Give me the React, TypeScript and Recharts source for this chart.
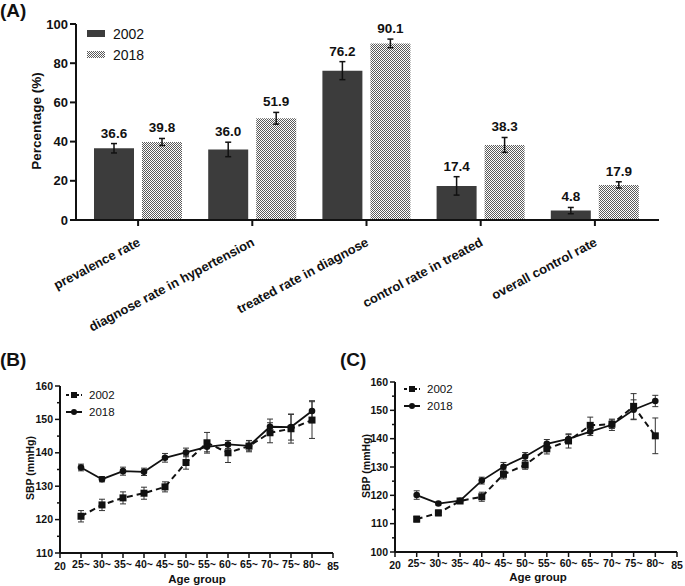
import React from "react";
import { BarChart, Bar, XAxis, YAxis, ErrorBar, LabelList, Legend, LineChart, Line } from "recharts";

const FONT = '"Liberation Sans", Arial, Helvetica, sans-serif';
const INK = "#111";
const DARK_BAR = "#3c3c3c";

// (A) awareness / treatment / control
const indicators = [
  "prevalence rate",
  "diagnose rate in hypertension",
  "treated rate in diagnose",
  "control rate in treated",
  "overall control rate",
];
const rate2002 = [36.6, 36.0, 76.2, 17.4, 4.8];
const rateErr2002 = [2.4, 3.7, 4.6, 4.7, 1.6];
const rate2018 = [39.8, 51.9, 90.1, 38.3, 17.9];
const rateErr2018 = [1.8, 3.0, 2.2, 3.8, 1.6];
const percentTicks = [0, 20, 40, 60, 80, 100];

// (B) and (C) SBP by age group
const ageGroups = [25, 30, 35, 40, 45, 50, 55, 60, 65, 70, 75, 80];
const ageTicks = [20, 25, 30, 35, 40, 45, 50, 55, 60, 65, 70, 75, 80, 85];
const sbpTicksB = [110, 115, 120, 125, 130, 135, 140, 145, 150, 155, 160];
const sbpTicksC = [100, 105, 110, 115, 120, 125, 130, 135, 140, 145, 150, 155, 160];

const sbpB2002 = [121.0, 124.4, 126.5, 127.9, 129.8, 137.1, 143.0, 140.0, 142.0, 146.0, 147.2, 149.8];
const sbpB2002Err = [1.7, 1.7, 1.8, 1.8, 1.5, 2.0, 3.1, 2.9, 1.7, 3.0, 4.3, 5.5];
const sbpB2018 = [135.6, 132.1, 134.5, 134.3, 138.5, 140.1, 141.8, 142.5, 142.1, 147.8, 147.7, 152.5];
const sbpB2018Err = [1.0, 0.8, 1.2, 1.1, 1.3, 1.3, 1.5, 1.2, 1.5, 2.3, 3.9, 3.1];

const sbpC2002 = [111.6, 113.8, 118.0, 119.5, 127.4, 130.7, 136.4, 139.2, 144.7, 145.1, 151.4, 141.0];
const sbpC2002Err = [1.0, 1.0, 0.7, 1.6, 1.6, 1.5, 1.8, 2.5, 2.9, 1.5, 4.5, 6.3];
const sbpC2018 = [120.1, 117.1, 118.1, 125.2, 130.1, 133.7, 138.2, 139.9, 142.5, 144.9, 150.2, 153.3];
const sbpC2018Err = [1.5, 0.5, 0.7, 1.2, 1.5, 1.4, 1.5, 1.5, 1.4, 2.0, 3.5, 2.0];

const rateData = indicators.map((name, i) => ({
  name,
  r2002: rate2002[i],
  e2002: rateErr2002[i],
  r2018: rate2018[i],
  e2018: rateErr2018[i],
}));

const buildSbp = (a: number[], ae: number[], b: number[], be: number[]) =>
  ageGroups.map((age, i) => ({ age, y2002: a[i], e2002: ae[i], y2018: b[i], e2018: be[i] }));

const sbpDataB = buildSbp(sbpB2002, sbpB2002Err, sbpB2018, sbpB2018Err);
const sbpDataC = buildSbp(sbpC2002, sbpC2002Err, sbpC2018, sbpC2018Err);

// value printed above the error bar cap
const makeBarLabel = (errs: number[]) => (props: any) => {
  const vb = props.viewBox || {};
  const x = Number(props.x ?? vb.x);
  const y = Number(props.y ?? vb.y);
  const w = Number(props.width ?? vb.width);
  const h = Number(props.height ?? vb.height);
  const v = Number(props.value);
  const err = errs[props.index] ?? 0;
  const top = y - (v ? (err * h) / v : 0);
  return (
    <text
      key={`lbl-${props.index}`}
      x={x + w / 2}
      y={top - 6}
      textAnchor="middle"
      fontSize={13.5}
      fontWeight="bold"
      fontFamily={FONT}
      fill={INK}
    >
      {v.toFixed(1)}
    </text>
  );
};

const IndicatorTick = (props: any) => {
  const { x, y, payload } = props;
  return (
    <text
      transform={`translate(${x + 3},${y + 17}) rotate(-28)`}
      textAnchor="end"
      fontSize={13}
      fontWeight="bold"
      fontFamily={FONT}
      fill={INK}
    >
      {payload.value}
    </text>
  );
};

const SbpTick = (props: any) => {
  const { x, y, payload } = props;
  const major = payload.value % 10 === 0;
  const axisX = x + 7;
  return (
    <g>
      <line x1={axisX - (major ? 5 : 3)} x2={axisX} y1={y} y2={y} stroke={INK} strokeWidth={1.5} />
      {major && (
        <text x={x} y={y} dy={3.5} textAnchor="end" fontSize={10.5} fontWeight="bold" fontFamily={FONT} fill={INK}>
          {payload.value}
        </text>
      )}
    </g>
  );
};

const AgeTick = (props: any) => {
  const { x, y, payload } = props;
  const edge = payload.value === 20 || payload.value === 85;
  return (
    <text
      x={x}
      y={y}
      dy={edge ? 10 : 7.5}
      textAnchor="middle"
      fontSize={10.5}
      fontWeight="bold"
      fontFamily={FONT}
      fill={INK}
    >
      {edge ? payload.value : `${payload.value}~`}
    </text>
  );
};

const SquareDot = (p: any) => (
  <rect key={`sq-${p.index}`} x={p.cx - 3.5} y={p.cy - 3.5} width={7} height={7} fill={INK} />
);
const RoundDot = (p: any) => <circle key={`ci-${p.index}`} cx={p.cx} cy={p.cy} r={3.3} fill={INK} />;

const RateLegend = () => (
  <div style={{ fontFamily: FONT, fontSize: 14, color: INK }}>
    {[
      { name: "2002", fill: DARK_BAR },
      { name: "2018", fill: "url(#dotsLegend)" },
    ].map((it) => (
      <div key={it.name} style={{ display: "flex", alignItems: "center", height: 21 }}>
        <svg width={18} height={7} style={{ marginRight: 8 }}>
          <defs>
            <pattern id="dotsLegend" width={2} height={2} patternUnits="userSpaceOnUse">
              <rect width={2} height={2} fill="#fff" />
              <rect width={1} height={1} fill="#5a5a5a" />
              <rect x={1} y={1} width={1} height={1} fill="#5a5a5a" />
            </pattern>
          </defs>
          <rect width={18} height={7} fill={it.fill} />
        </svg>
        <span>{it.name}</span>
      </div>
    ))}
  </div>
);

const SbpLegend = () => (
  <div style={{ fontFamily: FONT, fontSize: 11.5, color: INK }}>
    <div style={{ display: "flex", alignItems: "center", height: 17 }}>
      <svg width={16} height={8} style={{ marginRight: 7 }}>
        <line x1={0} x2={16} y1={4} y2={4} stroke={INK} strokeWidth={2} strokeDasharray="3 2" />
        <rect x={5} y={1} width={6} height={6} fill={INK} />
      </svg>
      <span>2002</span>
    </div>
    <div style={{ display: "flex", alignItems: "center", height: 17 }}>
      <svg width={16} height={8} style={{ marginRight: 7 }}>
        <line x1={0} x2={16} y1={4} y2={4} stroke={INK} strokeWidth={2} />
        <circle cx={8} cy={4} r={3} fill={INK} />
      </svg>
      <span>2018</span>
    </div>
  </div>
);

interface SbpPanelProps {
  data: typeof sbpDataB;
  ticks: number[];
  width: number;
  yWidth: number;
  margin: { top: number; right: number; left: number; bottom: number };
  legendPos: { left: number; top: number };
}

function SbpPanel({ data, ticks, width, yWidth, margin, legendPos }: SbpPanelProps) {
  return (
    <LineChart width={width} height={246} data={data} margin={margin}>
      <XAxis
        dataKey="age"
        type="number"
        domain={[20, 85]}
        ticks={ageTicks}
        interval={0}
        height={30}
        tickSize={5}
        tickMargin={2}
        tick={<AgeTick />}
        axisLine={{ stroke: INK, strokeWidth: 2 }}
        tickLine={{ stroke: INK, strokeWidth: 1.5 }}
      />
      <YAxis
        type="number"
        domain={[ticks[0], ticks[ticks.length - 1]]}
        ticks={ticks}
        interval={0}
        width={yWidth}
        tickSize={5}
        tickMargin={2}
        tick={<SbpTick />}
        tickLine={false}
        axisLine={{ stroke: INK, strokeWidth: 2 }}
      />
      <Legend
        layout="vertical"
        align="center"
        verticalAlign="middle"
        wrapperStyle={{ left: legendPos.left, top: legendPos.top, width: "auto" }}
        content={<SbpLegend />}
      />
      <Line
        dataKey="y2002"
        stroke={INK}
        strokeWidth={2}
        strokeDasharray="6 4"
        dot={SquareDot}
        activeDot={false}
        isAnimationActive={false}
      >
        <ErrorBar dataKey="e2002" direction="y" width={3} stroke="#333" strokeWidth={1} />
      </Line>
      <Line dataKey="y2018" stroke={INK} strokeWidth={1.8} dot={RoundDot} activeDot={false} isAnimationActive={false}>
        <ErrorBar dataKey="e2018" direction="y" width={3} stroke="#333" strokeWidth={1} />
      </Line>
    </LineChart>
  );
}

const abs = (left: number, top: number): React.CSSProperties => ({ position: "absolute", left, top });

const titleStyle: React.CSSProperties = {
  position: "absolute",
  fontFamily: FONT,
  fontWeight: "bold",
  color: INK,
  whiteSpace: "nowrap",
  lineHeight: 1,
};

export default function App() {
  return (
    <div style={{ position: "absolute", left: 0, top: 0, width: 685, height: 586, background: "#fff", overflow: "hidden" }}>
      <div style={abs(0, 0)}>
        <BarChart
          width={685}
          height={345}
          data={rateData}
          margin={{ top: 24, right: 26, left: 0, bottom: 0 }}
          barSize={40}
          barGap={8}
        >
          <defs>
            <pattern id="dots2018" width={2} height={2} patternUnits="userSpaceOnUse">
              <rect width={2} height={2} fill="#fff" />
              <rect width={1} height={1} fill="#5a5a5a" />
              <rect x={1} y={1} width={1} height={1} fill="#5a5a5a" />
            </pattern>
          </defs>
          <XAxis
            dataKey="name"
            padding={{ left: 5, right: 7 }}
            interval={0}
            height={125}
            tickSize={6}
            tickMargin={2}
            tick={<IndicatorTick />}
            axisLine={{ stroke: INK, strokeWidth: 2 }}
            tickLine={{ stroke: INK, strokeWidth: 2 }}
          />
          <YAxis
            domain={[0, 100]}
            ticks={percentTicks}
            interval={0}
            width={76}
            tickSize={6}
            tickMargin={2}
            tick={{ fill: INK, fontSize: 13, fontWeight: "bold", fontFamily: FONT }}
            axisLine={{ stroke: INK, strokeWidth: 2 }}
            tickLine={{ stroke: INK, strokeWidth: 2 }}
          />
          <Legend
            layout="vertical"
            align="center"
            verticalAlign="middle"
            wrapperStyle={{ left: 87, top: 23, width: "auto" }}
            content={<RateLegend />}
          />
          <Bar dataKey="r2002" fill={DARK_BAR} isAnimationActive={false}>
            <ErrorBar dataKey="e2002" width={3} stroke={INK} strokeWidth={1.5} />
            <LabelList dataKey="r2002" content={makeBarLabel(rateErr2002)} />
          </Bar>
          <Bar dataKey="r2018" fill="url(#dots2018)" isAnimationActive={false}>
            <ErrorBar dataKey="e2018" width={3} stroke={INK} strokeWidth={1.5} />
            <LabelList dataKey="r2018" content={makeBarLabel(rateErr2018)} />
          </Bar>
        </BarChart>
      </div>

      <div style={abs(0, 340)}>
        <SbpPanel
          data={sbpDataB}
          ticks={sbpTicksB}
          width={340}
          yWidth={60}
          margin={{ top: 46, right: 7, left: 0, bottom: 3 }}
          legendPos={{ left: 66, top: 46 }}
        />
      </div>
      <div style={abs(340, 340)}>
        <SbpPanel
          data={sbpDataC}
          ticks={sbpTicksC}
          width={345}
          yWidth={55}
          margin={{ top: 42, right: 8, left: 0, bottom: 4 }}
          legendPos={{ left: 64, top: 40 }}
        />
      </div>

      <div style={{ ...titleStyle, left: 0, top: 1, fontSize: 19 }}>(A)</div>
      <div style={{ ...titleStyle, left: 0, top: 350, fontSize: 19 }}>(B)</div>
      <div style={{ ...titleStyle, left: 340, top: 350, fontSize: 19 }}>(C)</div>

      <div style={{ ...titleStyle, left: 37, top: 121, fontSize: 13.5, transform: "translate(-50%,-50%) rotate(-90deg)" }}>
        Percentage (%)
      </div>
      <div style={{ ...titleStyle, left: 30, top: 468, fontSize: 10.5, transform: "translate(-50%,-50%) rotate(-90deg)" }}>
        SBP (mmHg)
      </div>
      <div style={{ ...titleStyle, left: 366, top: 466, fontSize: 10.5, transform: "translate(-50%,-50%) rotate(-90deg)" }}>
        SBP (mmHg)
      </div>
      <div style={{ ...titleStyle, left: 197, top: 580, fontSize: 11.5, transform: "translate(-50%,-50%)" }}>Age group</div>
      <div style={{ ...titleStyle, left: 538, top: 578, fontSize: 11.5, transform: "translate(-50%,-50%)" }}>Age group</div>
    </div>
  );
}
